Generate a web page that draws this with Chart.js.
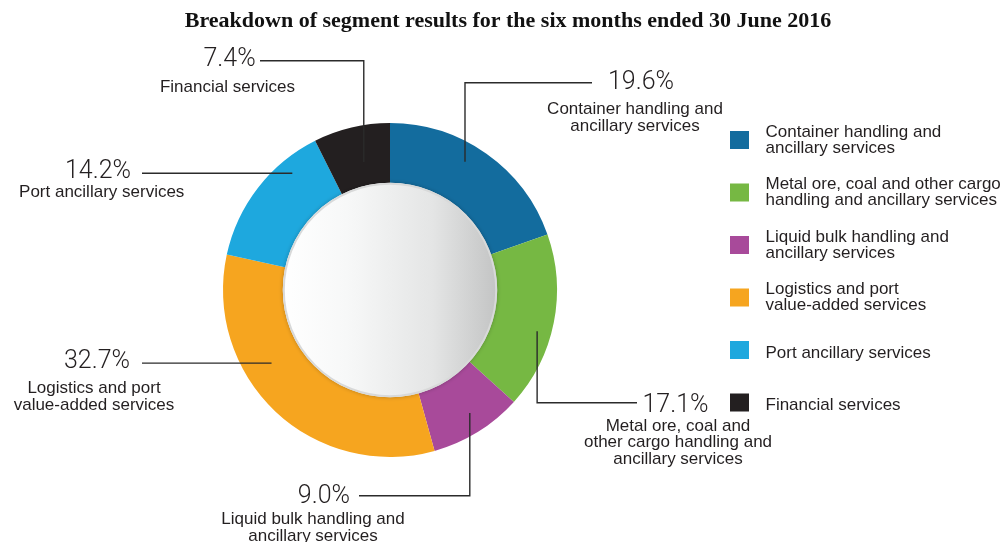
<!DOCTYPE html>
<html>
<head>
<meta charset="utf-8">
<title>Segment results</title>
<script src="https://cdn.jsdelivr.net/npm/chart.js@4/dist/chart.umd.min.js"></script>
<style>
  html, body { margin: 0; padding: 0; background: #fff; }
  #wrap { width: 1005px; height: 542px; }
</style>
</head>
<body>
<div id="wrap"><canvas id="segments" width="1005" height="542"></canvas></div>
<script>
'use strict';

// segment names as shown in the legend (one entry per line)
const legendLines = [
    ['Container handling and', 'ancillary services'],
    ['Metal ore, coal and other cargo', 'handling and ancillary services'],
    ['Liquid bulk handling and', 'ancillary services'],
    ['Logistics and port', 'value-added services'],
    ['Port ancillary services'],
    ['Financial services']
];

// same names, broken for the callouts around the ring
const calloutLines = [
    ['Container handling and', 'ancillary services'],
    ['Metal ore, coal and', 'other cargo handling and', 'ancillary services'],
    ['Liquid bulk handling and', 'ancillary services'],
    ['Logistics and port', 'value-added services'],
    ['Port ancillary services'],
    ['Financial services']
];

// share of segment results, %
const shares = [19.6, 17.1, 9.0, 32.7, 14.2, 7.4];

const palette = ['#136c9e', '#76b843', '#a84a9a', '#f6a51f', '#1ea8de', '#231f20'];

const TITLE = 'Breakdown of segment results for the six months ended 30 June 2016';

// where each leader line leaves its slice (fraction of the arc, fraction of the ring depth)
// and where its text sits
const callouts = [
    { frac: 0.43, depth: 0.70, elbowY: 82.7, endX: 592, pct: [608, 88.5, 'left'], desc: [635, 114.3] },
    { frac: 0.57, depth: 0.77, elbowY: 402.7, endX: 637, pct: [642.5, 411.7, 'left'], desc: [678, 431] },
    { frac: 0.46, depth: 0.67, elbowY: 495.7, endX: 359, pct: [350, 503.3, 'right'], desc: [313, 524.3] },
    { frac: 0.627, depth: 0.55, elbowY: null, endX: 142, pct: [130, 368.3, 'right'], desc: [94, 393.3] },
    { frac: 0.74, depth: 0.76, elbowY: null, endX: 142, pct: [131, 177.7, 'right'], desc: [101.7, 197.3] },
    { frac: 0.565, depth: 0.41, elbowY: 60.7, endX: 260, pct: [255.7, 66, 'right'], desc: [227.5, 91.7] }
];

const SANS = "'Liberation Sans', Arial, Helvetica, sans-serif";
const LIGHT = "300 25px Roboto, 'Liberation Sans', sans-serif";

const decorations = {
    id: 'decorations',
    afterDatasetsDraw(chart) {
        // shaded disc filling the hole of the ring
        const ctx = chart.ctx;
        const arc = chart.getDatasetMeta(0).data[0];
        const { x, y, innerRadius } = arc.getProps(['x', 'y', 'innerRadius'], true);
        const r = innerRadius + 2;
        ctx.save();
        const grad = ctx.createLinearGradient(x - r, 0, x + r, 0);
        grad.addColorStop(0, '#ffffff');
        grad.addColorStop(0.3, '#f7f8f8');
        grad.addColorStop(0.7, '#e4e5e5');
        grad.addColorStop(1, '#c3c4c4');
        ctx.shadowColor = 'rgba(0,0,0,0.25)';
        ctx.shadowBlur = 4;
        ctx.beginPath();
        ctx.arc(x, y, r, 0, Math.PI * 2);
        ctx.fillStyle = grad;
        ctx.fill();
        ctx.shadowColor = 'transparent';
        ctx.lineWidth = 2;
        ctx.strokeStyle = '#d8d9d9';
        ctx.beginPath();
        ctx.arc(x, y, r - 1, 0, Math.PI * 2);
        ctx.stroke();
        ctx.restore();
    },
    afterDraw(chart) {
        const ctx = chart.ctx;
        const meta = chart.getDatasetMeta(0);
        const values = chart.data.datasets[0].data;
        ctx.save();

        // title
        ctx.fillStyle = '#111';
        ctx.font = "bold 22px 'Liberation Serif', 'Times New Roman', serif";
        ctx.textAlign = 'center';
        ctx.textBaseline = 'alphabetic';
        ctx.fillText(TITLE, 508, 27);

        // leader lines and callout text
        meta.data.forEach((el, i) => {
            const c = callouts[i];
            const p = el.getProps(['x', 'y', 'startAngle', 'endAngle', 'innerRadius', 'outerRadius'], true);
            const a = p.startAngle + c.frac * (p.endAngle - p.startAngle);
            const rr = p.innerRadius + c.depth * (p.outerRadius - p.innerRadius);
            const ax = p.x + Math.cos(a) * rr;
            const ay = p.y + Math.sin(a) * rr;

            ctx.strokeStyle = '#2b2b2b';
            ctx.lineWidth = 1.4;
            ctx.beginPath();
            ctx.moveTo(ax, ay);
            if (c.elbowY !== null) {
                ctx.lineTo(ax, c.elbowY);
                ctx.lineTo(c.endX, c.elbowY);
            } else {
                ctx.lineTo(c.endX, ay);
            }
            ctx.stroke();

            ctx.fillStyle = '#231f20';
            ctx.font = LIGHT;
            ctx.textAlign = c.pct[2];
            ctx.fillText(values[i].toFixed(1) + '%', c.pct[0], c.pct[1]);

            ctx.font = '17px ' + SANS;
            ctx.textAlign = 'center';
            calloutLines[i].forEach((line, k) => {
                ctx.fillText(line, c.desc[0], c.desc[1] + k * 16.3);
            });
        });

        // legend on the right
        const bg = chart.data.datasets[0].backgroundColor;
        ctx.font = '17px ' + SANS;
        ctx.textAlign = 'left';
        legendLines.forEach((lines, i) => {
            const cy = 140 + i * 52.5;
            ctx.fillStyle = bg[i];
            ctx.fillRect(730, cy - 9, 19, 18);
            ctx.fillStyle = '#231f20';
            const base = lines.length > 1 ? cy - 3.5 : cy + 7.5;
            lines.forEach((line, k) => ctx.fillText(line, 765.5, base + k * 16.3));
        });
        ctx.restore();
    }
};

new Chart(document.getElementById('segments').getContext('2d'), {
    type: 'doughnut',
    data: {
        labels: legendLines.map(l => l.join(' ')),
        datasets: [{
            data: shares,
            backgroundColor: palette,
            borderWidth: 0,
            hoverOffset: 0
        }]
    },
    options: {
        responsive: false,
        animation: false,
        cutout: '63%',
        layout: { padding: { left: 223, right: 448, top: 123, bottom: 85 } },
        plugins: {
            legend: { display: false },
            tooltip: { enabled: false }
        }
    },
    plugins: [decorations]
});
</script>
</body>
</html>
